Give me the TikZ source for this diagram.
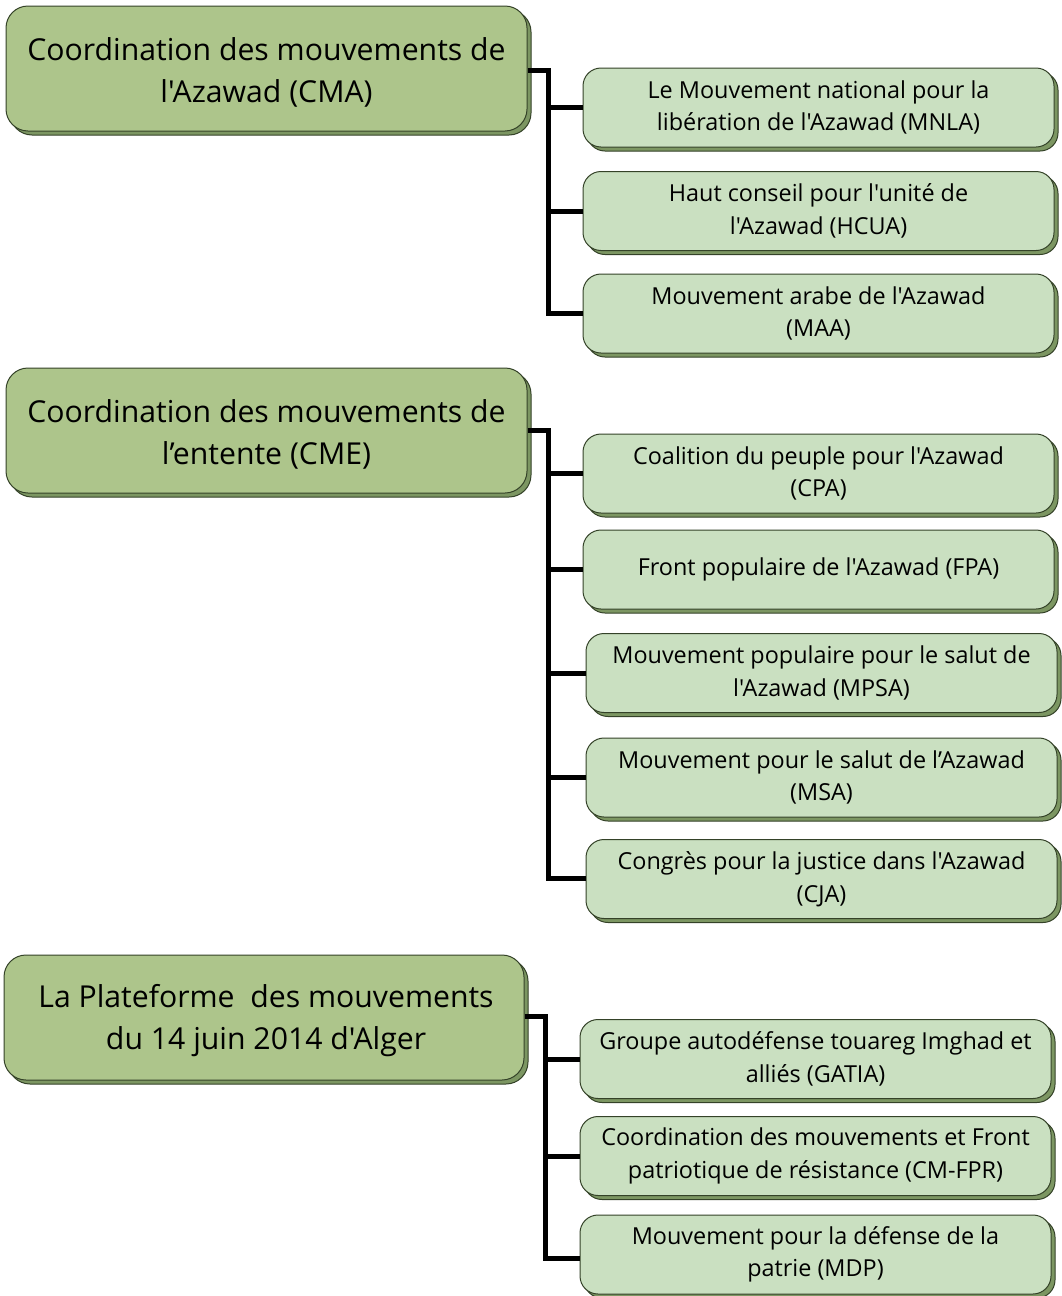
\documentclass[tikz,border=0pt]{standalone}
\usepackage{fontspec}
\newfontfamily\os{Open Sans}
\usetikzlibrary{shadows}
\definecolor{parfill}{RGB}{173,197,139}
\definecolor{chfill}{RGB}{202,224,193}
\definecolor{edge}{RGB}{52,66,40}
\definecolor{shad}{RGB}{124,150,98}
\tikzset{
  box/.style={draw=edge, line width=1pt, rounded corners=18pt, align=center, inner sep=0pt,
    general shadow={shadow xshift=4pt, shadow yshift=-4pt, fill=shad, draw=edge, line width=1pt}},
  parent/.style={box, fill=parfill,
    minimum width=521pt, minimum height=125pt, rounded corners=22pt},
  ptext/.style={align=center, inner sep=0pt, font=\os\fontsize{30.2}{42}\selectfont},
  kid/.style={box, fill=chfill, font=\os\fontsize{23.4}{32.5}\selectfont,
    minimum width=471pt, minimum height=79pt},
  conn/.style={line width=5pt, black, line join=miter, line cap=butt}
}
\begin{document}
\begin{tikzpicture}[x=1pt,y=-1pt]
\useasboundingbox (0,0) rectangle (1062,1296);
% parents
\node[parent] (cma) at (266.5,68.5) {};
\node[ptext] (cmat) at (266.5,72) {Coordination des mouvements de\\l'Azawad (CMA)};
\node[parent] (cme) at (266.5,430.5) {};
\node[ptext] (cmet) at (266.5,434) {Coordination des mouvements de\\l’entente (CME)};
\node[parent, minimum width=520pt] (plat) at (264,1017.5) {};
\node[ptext] (platt) at (266,1021) {La Plateforme\ \ des mouvements\\du 14 juin 2014 d'Alger};
% children CMA
\node[kid] (mnla) at (818.5,107.5) {Le Mouvement national pour la\\libération de l'Azawad (MNLA)};
\node[kid] (hcua) at (818.5,211) {Haut conseil pour l'unité de\\l'Azawad (HCUA)};
\node[kid] (maa) at (818.5,313.5) {Mouvement arabe de l'Azawad\\(MAA)};
% children CME
\node[kid] (cpa) at (818.5,473.5) {Coalition du peuple pour l'Azawad\\(CPA)};
\node[kid] (fpa) at (818.5,569.5) {Front populaire de l'Azawad (FPA)};
\node[kid] (mpsa) at (821.5,673) {Mouvement populaire pour le salut de\\l'Azawad (MPSA)};
\node[kid] (msa) at (821.5,777.5) {Mouvement pour le salut de l’Azawad\\(MSA)};
\node[kid] (cja) at (821.5,879) {Congrès pour la justice dans l'Azawad\\(CJA)};
% children Plateforme
\node[kid] (gatia) at (815.5,1059) {Groupe autodéfense touareg Imghad et\\alliés (GATIA)};
\node[kid] (cmfpr) at (815.5,1156) {Coordination des mouvements et Front\\patriotique de résistance (CM-FPR)};
\node[kid] (mdp) at (815.5,1254.5) {Mouvement pour la défense de la\\patrie (MDP)};
% connectors CMA
\coordinate (at) at (548,70);
\coordinate (ab) at (548,313);
\draw[conn] (cma.east |- at) -- (at) -- (ab) -- (maa.west |- ab);
\draw[conn] (at |- mnla.west) -- (mnla.west);
\draw[conn] (at |- hcua.west) -- (hcua.west);
% connectors CME
\coordinate (bt) at (548,430);
\coordinate (bb) at (548,878);
\draw[conn] (cme.east |- bt) -- (bt) -- (bb) -- (cja.west |- bb);
\draw[conn] (bt |- cpa.west) -- (cpa.west);
\draw[conn] (bt |- fpa.west) -- (fpa.west);
\draw[conn] (bt |- mpsa.west) -- (mpsa.west);
\draw[conn] (bt |- msa.west) -- (msa.west);
% connectors Plateforme
\coordinate (ct) at (545,1016);
\coordinate (cb) at (545,1258);
\draw[conn] (plat.east |- ct) -- (ct) -- (cb) -- (mdp.west |- cb);
\draw[conn] (ct |- gatia.west) -- (gatia.west);
\draw[conn] (ct |- cmfpr.west) -- (cmfpr.west);
\end{tikzpicture}
\end{document}
